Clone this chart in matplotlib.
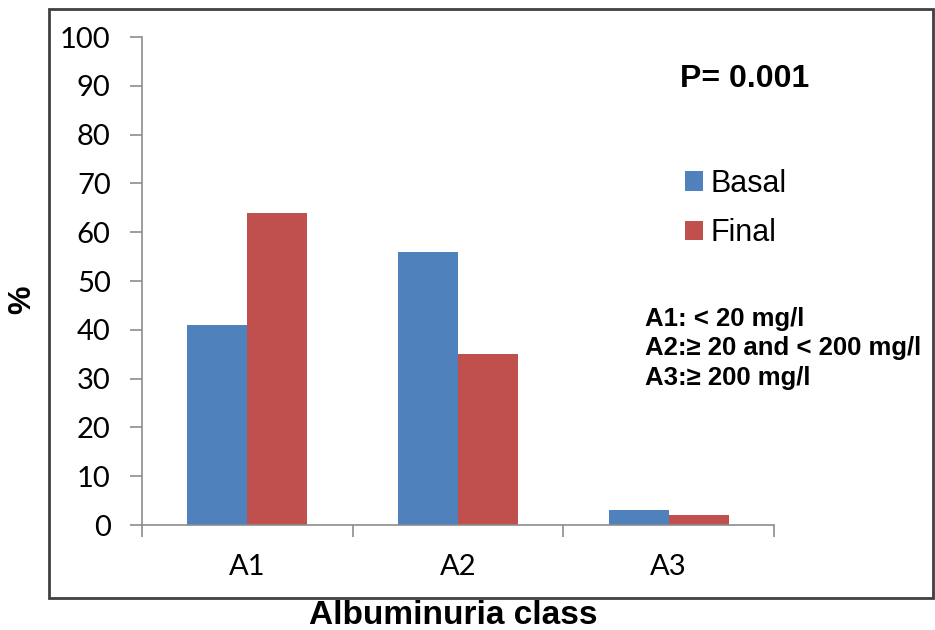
import numpy as np
import matplotlib
matplotlib.use("Agg")
import matplotlib.pyplot as plt
from matplotlib.patches import Rectangle

categories = ["A1", "A2", "A3"]
basal = [41, 56, 3]
final = [64, 35, 2]
yticks = [0, 10, 20, 30, 40, 50, 60, 70, 80, 90, 100]
notes = ["A1: < 20 mg/l", "A2:\u2265 20 and < 200 mg/l", "A3:\u2265 200 mg/l"]

blue = "#4F81BD"
red = "#C0504D"
axis_grey = "#8C8C8C"

fig = plt.figure(figsize=(9.35, 6.3), dpi=100)
ax = fig.add_axes([142/935, 105/630, (774-142)/935, (525-37)/630])

x = np.arange(len(categories))
w = 0.285
ax.bar(x - w/2, basal, w, color=blue, label="Basal")
ax.bar(x + w/2, final, w, color=red, label="Final")

ax.set_xlim(-0.5, 2.5)
ax.set_ylim(0, 100)
ax.set_yticks(yticks)
ax.set_xticks(x)
ax.set_xticklabels(categories)
ax.set_xticks([-0.5, 0.5, 1.5, 2.5], minor=True)

for s in ["top", "right"]:
    ax.spines[s].set_visible(False)
for s in ["left", "bottom"]:
    ax.spines[s].set_color(axis_grey)
    ax.spines[s].set_linewidth(1.2)

ax.tick_params(axis="y", direction="out", length=8.5, width=1.2, color=axis_grey,
               pad=14, labelsize=21)
ax.tick_params(axis="x", which="major", length=0, pad=21, labelsize=21)
ax.tick_params(axis="x", which="minor", direction="out", length=8.5, width=1.2,
               color=axis_grey)
for lab in ax.get_xticklabels() + ax.get_yticklabels():
    lab.set_family("Lato")

ax.legend(loc="upper left", bbox_to_anchor=(0.859, 0.73), frameon=False,
          prop={"family": "Liberation Sans", "size": 22}, handlelength=0.6,
          handleheight=0.6, handletextpad=0.25, labelspacing=0.63,
          borderaxespad=0, borderpad=0)

fig.text(680/935, 1 - 79/630, "P= 0.001", ha="left", va="center",
         fontsize=23, fontweight="bold", family="Liberation Sans")
for i, t in enumerate(notes):
    fig.text(645/935, 1 - (319 + i*29.5)/630, t, ha="left", va="center",
             fontsize=18.5, fontweight="bold", family="Liberation Sans")

fig.text(22/935, 1 - 300/630, "%", rotation=90, ha="center", va="center",
         fontsize=23, fontweight="bold", family="Liberation Sans")
fig.text(453/935, 1 - 615/630, "Albuminuria class", ha="center", va="center",
         fontsize=24, fontweight="bold", family="Liberation Sans")

# outer frame of the chart area
fig.patches.append(Rectangle((49/935, 1 - 598/630), (933-49)/935, (598-9)/630,
                             transform=fig.transFigure, fill=False,
                             edgecolor="#404040", linewidth=2))

fig.savefig("out.png", dpi=100)
